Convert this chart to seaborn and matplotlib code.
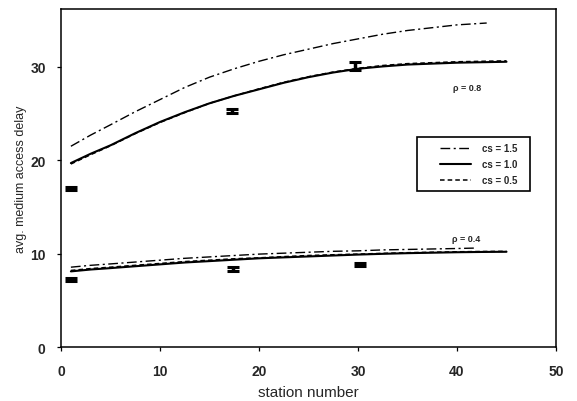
import numpy as np
import pandas as pd
import matplotlib
matplotlib.use('Agg')
import matplotlib.pyplot as plt
from matplotlib.patches import Rectangle
import seaborn as sns

# analytic curves
st_full = [1, 3, 5, 7.5, 10, 12.5, 15, 17.5, 20, 22.5, 25, 27.5, 30, 32.5, 35, 37.5, 40, 42.5, 45]
st_dd08 = [1, 3, 5, 7.5, 10, 12.5, 15, 17.5, 20, 22.5, 25, 27.5, 30, 32.5, 35, 37.5, 40, 43]
st_dd04 = [1, 3, 5, 7.5, 10, 12.5, 15, 17.5, 20, 22.5, 25, 27.5, 30, 32.5, 35, 37.5, 40, 42]

# rho = 0.8
r08_cs15 = [21.5, 22.7, 23.8, 25.2, 26.5, 27.8, 28.9, 29.8, 30.6, 31.3, 31.9, 32.5,
            33.0, 33.5, 33.9, 34.2, 34.5, 34.7]
r08_cs10 = [19.7, 20.7, 21.6, 22.9, 24.1, 25.15, 26.1, 26.9, 27.6, 28.3, 28.9, 29.4,
            29.8, 30.05, 30.25, 30.35, 30.45, 30.5, 30.55]
r08_cs05 = [19.6, 20.6, 21.55, 22.85, 24.05, 25.1, 26.1, 26.9, 27.65, 28.35, 28.95, 29.45,
            29.85, 30.15, 30.35, 30.45, 30.55, 30.6, 30.65]

# rho = 0.4
r04_cs15 = [8.55, 8.75, 8.9, 9.1, 9.3, 9.5, 9.65, 9.8, 9.95, 10.05, 10.15, 10.25,
            10.3, 10.4, 10.45, 10.5, 10.55, 10.6]
r04_cs10 = [8.1, 8.3, 8.45, 8.65, 8.85, 9.05, 9.2, 9.35, 9.5, 9.6, 9.7, 9.8,
            9.9, 9.98, 10.05, 10.1, 10.15, 10.18, 10.2]
r04_cs05 = [8.2, 8.4, 8.55, 8.75, 8.95, 9.15, 9.3, 9.45, 9.55, 9.68, 9.8, 9.88,
            9.95, 10.03, 10.1, 10.15, 10.2, 10.23, 10.25]

# simulation results with confidence intervals
sim_st08 = [1, 17.3, 29.7]
sim_r08 = [17.0, 25.3, 30.1]
sim_err08 = [0.15, 0.2, 0.45]
sim_st04 = [1, 17.4, 30.2]
sim_r04 = [7.2, 8.35, 8.85]
sim_err04 = [0.15, 0.2, 0.2]

legend_labels = ['cs = 1.5', 'cs = 1.0', 'cs = 0.5']

sns.set_style('ticks')
plt.rcParams['font.family'] = ['Liberation Sans', 'DejaVu Sans']

fig = plt.figure(figsize=(5.77, 4.02), dpi=100)
ax = fig.add_axes([0.1057, 0.1343, 0.8579, 0.8408])

dd = (0, (7, 2.5, 1.5, 2.5))
styles = [(dd, 1.0), ('-', 1.5), ((0, (3, 2)), 1.1)]

for i, (st, ys) in enumerate([(st_dd08, r08_cs15), (st_full, r08_cs10), (st_full, r08_cs05)]):
    ls, lw = styles[i]
    sns.lineplot(x=st, y=ys, ax=ax, color='black', linestyle=ls, linewidth=lw,
                 label=legend_labels[i])
for i, (st, ys) in enumerate([(st_dd04, r04_cs15), (st_full, r04_cs10), (st_full, r04_cs05)]):
    ls, lw = styles[i]
    sns.lineplot(x=st, y=ys, ax=ax, color='black', linestyle=ls, linewidth=lw)

ax.errorbar(sim_st08, sim_r08, yerr=sim_err08, fmt='none', ecolor='black',
            elinewidth=2.5, capsize=4.5, capthick=2.2)
ax.errorbar(sim_st04, sim_r04, yerr=sim_err04, fmt='none', ecolor='black',
            elinewidth=2.5, capsize=4.5, capthick=2.2)

ax.text(41.0, 27.8, 'ρ = 0.8', fontsize=6.5, fontweight='bold', ha='center', va='center')
ax.text(40.9, 11.6, 'ρ = 0.4', fontsize=6.5, fontweight='bold', ha='center', va='center')

ax.set_xlim(0, 50)
ax.set_ylim(0, 36.2)
ax.set_xticks([0, 10, 20, 30, 40, 50])
ax.set_yticks([0, 10, 20, 30])
for lab in ax.get_xticklabels() + ax.get_yticklabels():
    lab.set_fontweight('bold')
ax.tick_params(labelsize=10, length=3, width=0.9, color='black')
ax.tick_params(axis='x', pad=9)
ax.tick_params(axis='y', pad=8)
ax.set_xlabel('station number', fontsize=11, labelpad=5)
ax.set_ylabel('avg. medium access delay', fontsize=9, labelpad=2)

for s in ax.spines.values():
    s.set_visible(True)
    s.set_color('black')
    s.set_linewidth(1.1)

# legend box drawn separately so the entries sit right of centre like the original
ax.add_patch(Rectangle((0.719, 0.4615), 0.228, 0.16, transform=ax.transAxes,
                       fill=False, edgecolor='black', linewidth=1.2, zorder=5))
leg = ax.legend(loc='center left', bbox_to_anchor=(0.765, 0.541), frameon=False,
                handlelength=3.2, handletextpad=1.2, borderpad=0, borderaxespad=0,
                labelspacing=0.6, prop={'weight': 'bold', 'size': 7})

fig.savefig('out.png', dpi=100)
